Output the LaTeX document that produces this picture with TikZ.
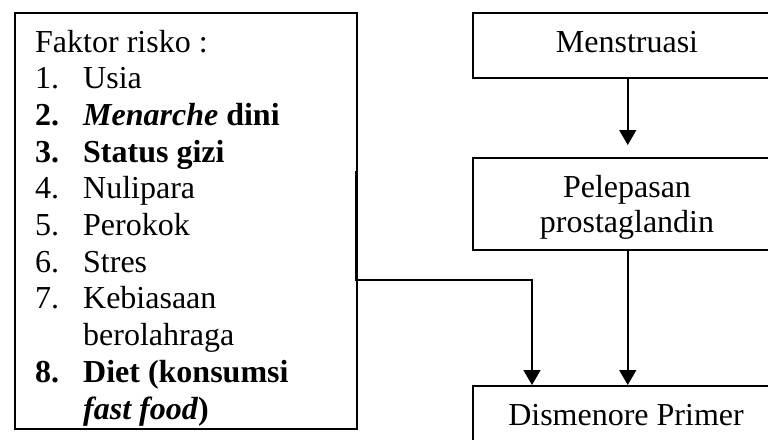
\documentclass[tikz,border=0pt]{standalone}
\usepackage{fontspec}
\setmainfont{Liberation Serif}
\usetikzlibrary{arrows.meta}
\newcommand\lstitem[2]{\hbox{\makebox[48pt][l]{#1}#2}}
\begin{document}
\begin{tikzpicture}[x=1pt,y=-1pt,
  boxnode/.style={draw, line width=1.5pt, inner sep=0pt, anchor=north west},
  lbl/.style={inner sep=0pt, font=\fontsize{32}{36.7}\selectfont},
  arr/.style={line width=1.5pt, -{Triangle[width=17pt,length=15pt]}}]
\useasboundingbox (0,0) rectangle (768,439);
\clip (0,0) rectangle (768,439);
\fill[white] (0,0) rectangle (768,439);
% boxes
\node[boxnode, minimum width=342pt, minimum height=416pt] (risk) at (14,12) {};
\node[boxnode, minimum width=310pt, minimum height=65pt] (m) at (472,12) {};
\node[boxnode, minimum width=310pt, minimum height=92pt] (p) at (472,157) {};
\node[boxnode, minimum width=310pt, minimum height=70pt] (d) at (472,385) {};
% texts
\node[lbl, anchor=base] (mt) at (627,52) {Menstruasi};
\node[lbl, anchor=base] (pt1) at (627,197) {Pelepasan};
\node[lbl, anchor=base] (pt2) at (627,232) {prostaglandin};
\node[lbl, anchor=base] (dt) at (626,425) {Dismenore Primer};
\node[lbl, anchor=base west] (list) at (35,52) {\vtop{%
  \hbox{Faktor risko :}
  \lstitem{1.}{Usia}
  \lstitem{\textbf{2.}}{\textbf{\textit{Menarche} dini}}
  \lstitem{\textbf{3.}}{\textbf{Status gizi}}
  \lstitem{4.}{Nulipara}
  \lstitem{5.}{Perokok}
  \lstitem{6.}{Stres}
  \lstitem{7.}{Kebiasaan}
  \lstitem{}{berolahraga}
  \lstitem{\textbf{8.}}{\textbf{Diet (konsumsi}}
  \lstitem{}{\textbf{\textit{fast food})}}}};
% connectors
\draw[arr, shorten >=12pt] (m.south) -- (p.north);
\draw[arr] (p.south) -- (d.north);
\coordinate (c1) at (356,171);
\coordinate (c2) at (356,280);
\draw[arr] (c1) -- (c2) -| ([xshift=60pt]d.north west);
\end{tikzpicture}
\end{document}
